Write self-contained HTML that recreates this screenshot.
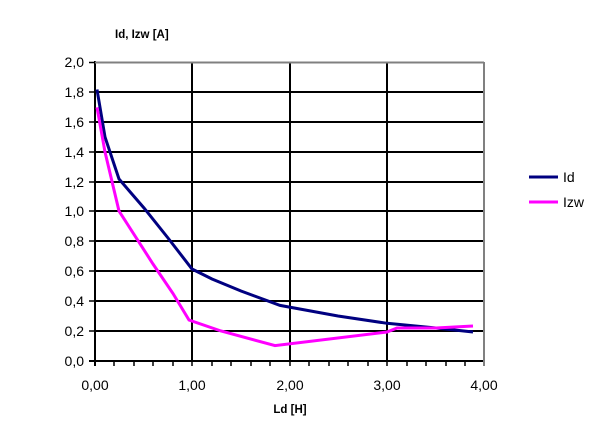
<!DOCTYPE html>
<html><head><style>body{margin:0;background:#fff}svg text{font-family:"Liberation Sans",sans-serif}</style></head><body>
<svg width="607" height="430" xmlns="http://www.w3.org/2000/svg">
<rect width="607" height="430" fill="#fff"/>
<text x="115" y="38" font-size="11.5" font-weight="bold">Id, Izw [A]</text>
<g stroke="#000" stroke-width="2">
<line x1="95" y1="92" x2="484" y2="92"/><line x1="95" y1="122" x2="484" y2="122"/><line x1="95" y1="152" x2="484" y2="152"/><line x1="95" y1="182" x2="484" y2="182"/><line x1="95" y1="211" x2="484" y2="211"/><line x1="95" y1="241" x2="484" y2="241"/><line x1="95" y1="271" x2="484" y2="271"/><line x1="95" y1="301" x2="484" y2="301"/><line x1="95" y1="331" x2="484" y2="331"/>
<line x1="192" y1="62" x2="192" y2="361"/><line x1="290" y1="62" x2="290" y2="361"/><line x1="387" y1="62" x2="387" y2="361"/>
<line x1="95" y1="61" x2="95" y2="366"/><line x1="89" y1="361" x2="484" y2="361"/>
</g>
<g stroke="#000" stroke-width="1.5">
<path d="M89 62.5h6M89 92h6M89 122h6M89 152h6M89 182h6M89 211h6M89 241h6M89 271h6M89 301h6M89 331h6"/>
<path d="M114 361v5M134 361v5M153 361v5M173 361v5M192 361v5M212 361v5M231 361v5M251 361v5M270 361v5M290 361v5M309 361v5M329 361v5M348 361v5M368 361v5M387 361v5M407 361v5M426 361v5M446 361v5M465 361v5M484 361v5"/>
</g>
<line x1="95" y1="62.5" x2="484" y2="62.5" stroke="#808080" stroke-width="2"/>
<line x1="484" y1="62" x2="484" y2="366" stroke="#808080" stroke-width="2"/>
<g font-size="14" text-anchor="end">
<text x="84" y="67">2,0</text><text x="84" y="97">1,8</text><text x="84" y="127">1,6</text><text x="84" y="157">1,4</text><text x="84" y="187">1,2</text><text x="84" y="216">1,0</text><text x="84" y="246">0,8</text><text x="84" y="276">0,6</text><text x="84" y="306">0,4</text><text x="84" y="336">0,2</text><text x="84" y="366">0,0</text>
</g>
<g font-size="14" text-anchor="middle">
<text x="95" y="390">0,00</text><text x="192" y="390">1,00</text><text x="290" y="390">2,00</text><text x="387" y="390">3,00</text><text x="484" y="390">4,00</text>
</g>
<text x="290" y="413" font-size="11.5" font-weight="bold" text-anchor="middle">Ld [H]</text>
<polyline fill="none" stroke="#000080" stroke-width="3" points="97,89.5 105,137 119,179 144,208 168,238 192,269 212,279 241,291 280,305.4 338,316 387,323.3 436,328 473,332"/>
<polyline fill="none" stroke="#ff00ff" stroke-width="3" points="97,107.4 105,152 119,211 153,264 173,293.5 189,320 221,331 275,345.6 387,332 397,328 436,328 473,326"/>
<line x1="529" y1="177" x2="558" y2="177" stroke="#000080" stroke-width="3"/>
<text x="563" y="182" font-size="14">Id</text>
<line x1="529" y1="202" x2="558" y2="202" stroke="#ff00ff" stroke-width="3"/>
<text x="563" y="207" font-size="14">Izw</text>
</svg>
</body></html>
